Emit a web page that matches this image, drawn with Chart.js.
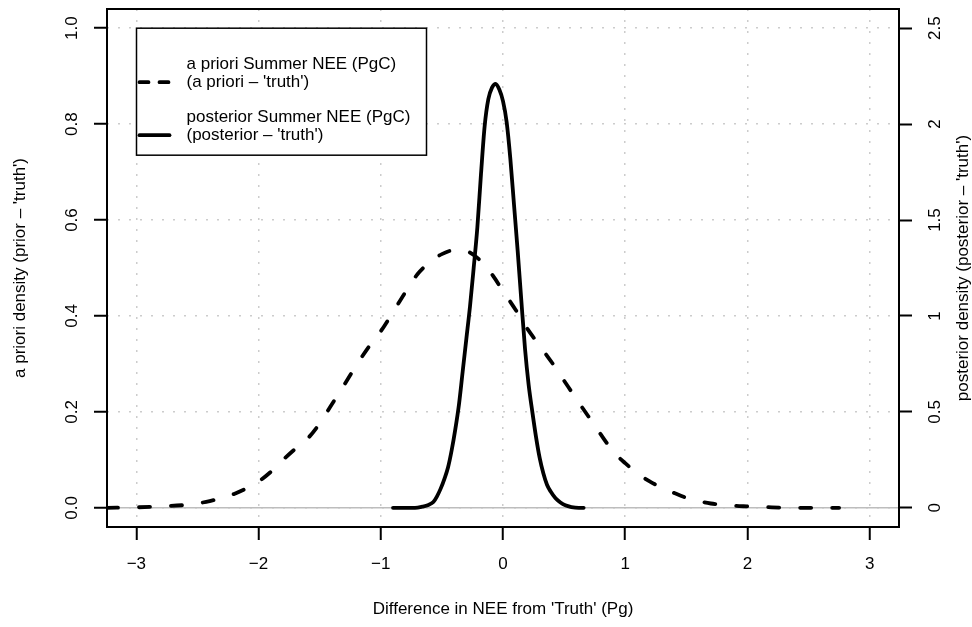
<!DOCTYPE html>
<html>
<head>
<meta charset="utf-8">
<script src="https://cdn.jsdelivr.net/npm/chart.js@4.4.1/dist/chart.umd.min.js"></script>
<style>
  html, body { margin: 0; padding: 0; background: #fff; }
</style>
</head>
<body>
<canvas id="chart" width="972" height="627"></canvas>
<script>
// a priori - 'truth' density (left axis)
const priorX = [-3.24, -3.0, -2.8, -2.6, -2.4, -2.2, -2.0, -1.9, -1.8, -1.7, -1.6, -1.5, -1.4, -1.3, -1.2, -1.1,
  -1.0, -0.9, -0.8, -0.7, -0.6, -0.5, -0.4, -0.3, -0.2, -0.1, 0.0, 0.1, 0.2, 0.3, 0.4, 0.5, 0.6, 0.7, 0.8, 0.9,
  1.0, 1.1, 1.2, 1.3, 1.4, 1.5, 1.6, 1.7, 1.8, 1.9, 2.0, 2.2, 2.4, 2.75];
const priorY = [0.0, 0.001, 0.003, 0.006, 0.014, 0.029, 0.055, 0.075, 0.100, 0.123, 0.144, 0.176, 0.216, 0.256, 0.297, 0.335,
  0.368, 0.408, 0.449, 0.487, 0.512, 0.529, 0.537, 0.535, 0.519, 0.490, 0.452, 0.414, 0.373, 0.338, 0.303, 0.265, 0.227, 0.190, 0.153, 0.118,
  0.093, 0.072, 0.055, 0.042, 0.031, 0.021, 0.014, 0.009, 0.006, 0.004, 0.003, 0.001, 0.0, 0.0];

// posterior - 'truth' density (right axis)
const postX = [-0.90, -0.80, -0.72, -0.66, -0.61, -0.57, -0.54, -0.51, -0.48, -0.45, -0.42, -0.39, -0.36, -0.33, -0.30,
  -0.27, -0.24, -0.21, -0.18, -0.15, -0.12, -0.09, -0.06, -0.03, 0.0, 0.03, 0.06, 0.09, 0.12, 0.15, 0.18, 0.21,
  0.24, 0.27, 0.30, 0.33, 0.36, 0.39, 0.43, 0.47, 0.51, 0.56, 0.62, 0.66];
const postY = [0.0, 0.0, 0.0, 0.006, 0.015, 0.03, 0.06, 0.10, 0.15, 0.21, 0.30, 0.41, 0.54, 0.71, 0.88,
  1.05, 1.25, 1.46, 1.74, 1.99, 2.13, 2.19, 2.21, 2.18, 2.12, 2.01, 1.82, 1.58, 1.34, 1.08, 0.83, 0.64,
  0.50, 0.37, 0.26, 0.18, 0.12, 0.085, 0.05, 0.028, 0.013, 0.004, 0.0, 0.0];

const xTickValues = [-3, -2, -1, 0, 1, 2, 3];
const xTickLabels = ['−3', '−2', '−1', '0', '1', '2', '3'];
const leftTickValues = [0, 0.2, 0.4, 0.6, 0.8, 1.0];
const leftTickLabels = ['0.0', '0.2', '0.4', '0.6', '0.8', '1.0'];
const rightTickValues = [0, 0.5, 1, 1.5, 2, 2.5];
const rightTickLabels = ['0', '0.5', '1', '1.5', '2', '2.5'];

const xRange = [-3.24, 3.24];
const leftRange = [-0.04, 1.04];
const rightRange = [-0.1, 2.6];

const xTitle = "Difference in NEE from 'Truth' (Pg)";
const leftTitle = "a priori density (prior – 'truth')";
const rightTitle = "posterior density (posterior – 'truth')";
const legendTitles = ['a priori Summer NEE (PgC)', 'posterior Summer NEE (PgC)'];
const legendSubs = ["(a priori – 'truth')", "(posterior – 'truth')"];

const FONT = '"Liberation Sans", Arial, Helvetica, sans-serif';
Chart.defaults.font.family = FONT;
Chart.defaults.font.size = 17;
Chart.defaults.color = '#000';

const gridColor = '#cccccc';

function toPoints(xs, ys) {
  return xs.map((x, i) => ({x: x, y: ys[i]}));
}

function fixedTicks(values) {
  return function (scale) {
    scale.ticks = values.map(v => ({value: v}));
  };
}

function labelFrom(values, labels) {
  return function (value) {
    const i = values.indexOf(value);
    return i < 0 ? '' : labels[i];
  };
}

// box round the plot, right-hand title and the legend
const plotExtras = {
  id: 'plotExtras',
  afterDraw(chart) {
    const ctx = chart.ctx;
    const a = chart.chartArea;
    ctx.save();
    ctx.strokeStyle = '#000';
    ctx.lineWidth = 2;
    ctx.strokeRect(a.left, a.top, a.right - a.left, a.bottom - a.top);

    ctx.font = '17px ' + FONT;
    ctx.fillStyle = '#000';
    ctx.textAlign = 'center';
    ctx.textBaseline = 'middle';
    ctx.save();
    ctx.translate(963, (a.top + a.bottom) / 2);
    ctx.rotate(-Math.PI / 2);
    ctx.fillText(rightTitle, 0, 0);
    ctx.restore();

    // legend
    const bx = a.left + 29.5;
    const by = chart.scales.yL.getPixelForValue(1.0);
    const bw = 290, bh = 127;
    ctx.fillStyle = '#fff';
    ctx.fillRect(bx, by, bw, bh);
    ctx.strokeStyle = '#000';
    ctx.lineWidth = 1.5;
    ctx.strokeRect(bx, by, bw, bh);

    const rows = [by + 36, by + 89];
    const dashes = [[9, 11], []];
    ctx.textAlign = 'left';
    for (let i = 0; i < 2; i++) {
      const ds = chart.data.datasets[i];
      ctx.fillStyle = '#000';
      ctx.fillText(legendTitles[i], bx + 50, rows[i]);
      ctx.fillText(legendSubs[i], bx + 50, rows[i] + 18);
      ctx.beginPath();
      ctx.setLineDash(dashes[i]);
      ctx.lineCap = 'round';
      ctx.lineWidth = ds.borderWidth;
      ctx.strokeStyle = ds.borderColor;
      ctx.moveTo(bx + 3, rows[i] + 18);
      ctx.lineTo(bx + 33, rows[i] + 18);
      ctx.stroke();
    }
    ctx.restore();
  }
};

const data = {
  datasets: [
    {
      label: 'a priori Summer NEE (PgC)',
      data: toPoints(priorX, priorY),
      yAxisID: 'yL',
      borderColor: '#000',
      borderWidth: 3.8,
      borderDash: [11, 21],
      borderCapStyle: 'round',
      pointRadius: 0,
      cubicInterpolationMode: 'monotone',
      fill: false
    },
    {
      label: 'posterior Summer NEE (PgC)',
      data: toPoints(postX, postY),
      yAxisID: 'yR',
      borderColor: '#000',
      borderWidth: 3.8,
      borderCapStyle: 'round',
      pointRadius: 0,
      cubicInterpolationMode: 'monotone',
      fill: false
    },
    {
      label: 'zero',
      data: toPoints(xRange, [0, 0]),
      yAxisID: 'yL',
      borderColor: '#bdbdbd',
      borderWidth: 1.5,
      pointRadius: 0,
      fill: false
    }
  ]
};

const config = {
  type: 'line',
  data: data,
  plugins: [plotExtras],
  options: {
    responsive: false,
    animation: false,
    devicePixelRatio: 1,
    layout: { padding: { top: 9, left: 0, right: 0, bottom: 0 } },
    plugins: {
      legend: { display: false },
      tooltip: { enabled: false }
    },
    scales: {
      x: {
        type: 'linear',
        position: 'bottom',
        min: xRange[0],
        max: xRange[1],
        afterBuildTicks: fixedTicks(xTickValues),
        afterFit: s => { s.height = 100; s.paddingLeft = 0; s.paddingRight = 0; },
        ticks: { callback: labelFrom(xTickValues, xTickLabels), padding: 14, autoSkip: false, maxRotation: 0 },
        grid: { color: gridColor, lineWidth: 1.5, tickColor: '#000', tickWidth: 2, tickLength: 13 },
        border: { display: false, dash: [2, 9] },
        title: { display: true, text: xTitle, padding: { top: 0, bottom: 7 } }
      },
      yL: {
        type: 'linear',
        position: 'left',
        min: leftRange[0],
        max: leftRange[1],
        afterBuildTicks: fixedTicks(leftTickValues),
        afterFit: s => { s.width = 107; s.paddingTop = 0; s.paddingBottom = 0; },
        ticks: { callback: labelFrom(leftTickValues, leftTickLabels), padding: 10, autoSkip: false,
                 minRotation: 90, maxRotation: 90, crossAlign: 'center' },
        grid: { color: gridColor, lineWidth: 1.5, tickColor: '#000', tickWidth: 2, tickLength: 13 },
        border: { display: false, dash: [2, 9] },
        title: { display: true, text: leftTitle, padding: { top: 10, bottom: 0 } }
      },
      yR: {
        type: 'linear',
        position: 'right',
        min: rightRange[0],
        max: rightRange[1],
        afterBuildTicks: fixedTicks(rightTickValues),
        afterFit: s => { s.width = 73; s.paddingTop = 0; s.paddingBottom = 0; },
        ticks: { callback: labelFrom(rightTickValues, rightTickLabels), padding: 11, autoSkip: false,
                 minRotation: 90, maxRotation: 90, crossAlign: 'center' },
        grid: { drawOnChartArea: false, tickColor: '#000', tickWidth: 2, tickLength: 13 },
        border: { display: false }
      }
    }
  }
};

const chart = new Chart(document.getElementById('chart').getContext('2d'), config);
</script>
</body>
</html>
